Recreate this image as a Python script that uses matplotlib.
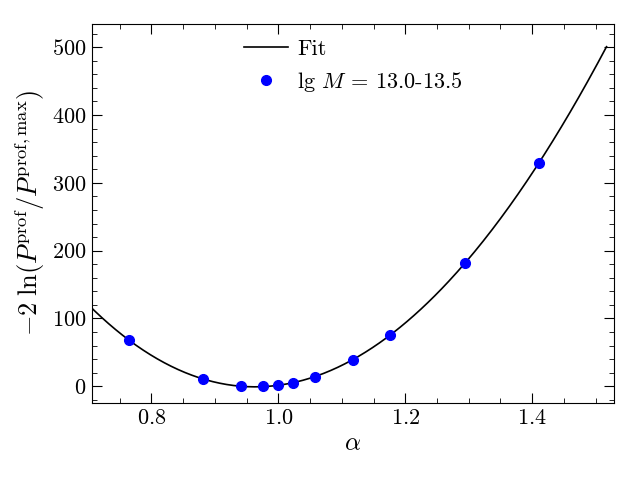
import numpy as np
import matplotlib
matplotlib.use('Agg')
import matplotlib.pyplot as plt
from matplotlib.ticker import MultipleLocator

plt.rcParams['font.family'] = 'serif'
plt.rcParams['font.serif'] = ['cmr10']
plt.rcParams['mathtext.fontset'] = 'cm'
plt.rcParams['axes.formatter.use_mathtext'] = True

# data
alpha = [0.765, 0.882, 0.941, 0.976, 1.000, 1.023, 1.058, 1.117, 1.176, 1.294, 1.411]
chi2 = [68, 10, 0.5, 0, 1.5, 5, 14, 39, 75, 182, 330]
fit_range = (0.70, 1.517)
xlim = (12 / 17, 26 / 17)
ylim = (-25, 535)

coef = np.polyfit(alpha, chi2, 3)
xfit = np.linspace(fit_range[0], fit_range[1], 300)
yfit = np.polyval(coef, xfit)

fig = plt.figure(figsize=(6.4, 4.8), dpi=100)
ax = fig.add_axes([0.143, 0.160, 0.817, 0.791])

ax.plot(xfit, yfit, 'k-', lw=1.2, label='Fit')
ax.plot(alpha, chi2, 'o', color='blue', ms=7, label=r'lg $M$ = 13.0-13.5')

ax.set_xlim(*xlim)
ax.set_ylim(*ylim)
ax.xaxis.set_major_locator(MultipleLocator(0.2))
ax.xaxis.set_minor_locator(MultipleLocator(0.05))
ax.yaxis.set_major_locator(MultipleLocator(100))
ax.yaxis.set_minor_locator(MultipleLocator(20))
ax.tick_params(which='both', direction='in', top=True, right=True, labelsize=16)
ax.tick_params(which='major', length=7)
ax.tick_params(which='minor', length=3.5)

ax.set_xlabel(r'$\alpha$', fontsize=18)
ax.set_ylabel(r'$-2\;\ln(P^{\rm prof}/P^{\rm prof,max})$', fontsize=19)

ax.legend(loc='upper center', frameon=False, fontsize=16, handlelength=2.0,
          handletextpad=0.4, borderaxespad=0.3)

fig.savefig('out.png', dpi=100)
